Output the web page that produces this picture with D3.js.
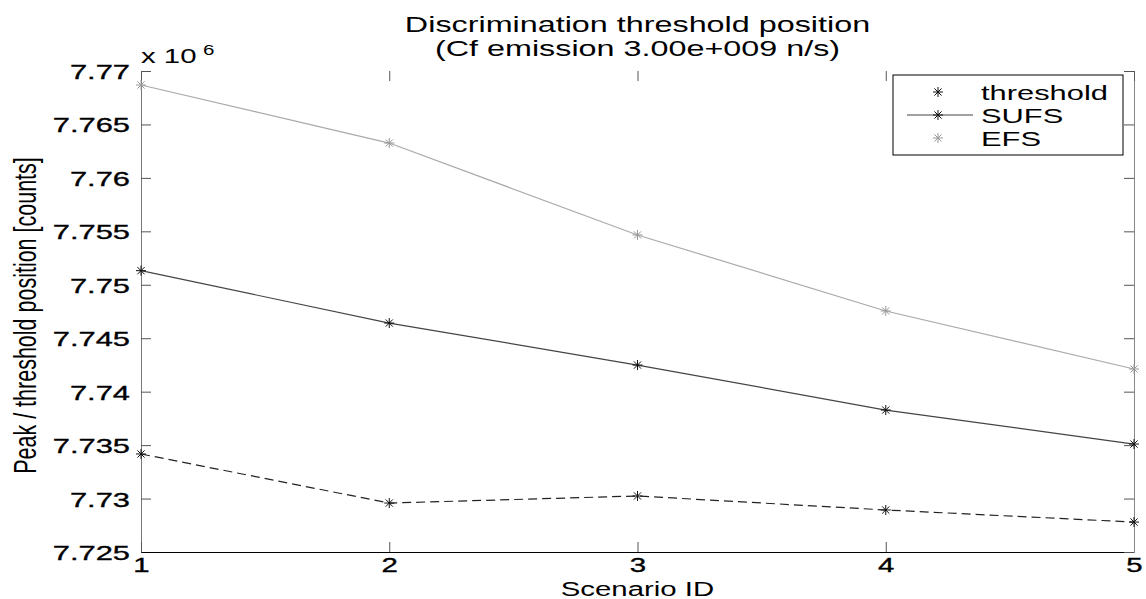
<!DOCTYPE html>
<html>
<head>
<meta charset="utf-8">
<script src="https://cdn.jsdelivr.net/npm/d3@7"></script>
<style>
  body { margin: 0; background: #fff; }
  text { font-family: "Liberation Sans", Arial, sans-serif; fill: #000; }
</style>
</head>
<body>
<div id="chart"></div>
<script>
// Data (values in units of 10^6 counts)
const scenarios = [1, 2, 3, 4, 5];
const thresholdVals = [7.73417, 7.72958, 7.73024, 7.72893, 7.72780];
const sufsVals = [7.75132, 7.74642, 7.74249, 7.73828, 7.73510];
const efsVals = [7.76869, 7.76326, 7.75466, 7.74755, 7.74212];
const yTicks = [7.725, 7.73, 7.735, 7.74, 7.745, 7.75, 7.755, 7.76, 7.765, 7.77];
const seriesNames = ["threshold", "SUFS", "EFS"];

const width = 1146, height = 599;
const plot = { left: 141, right: 1134, top: 71, bottom: 552 };
const SX = 1.47; // the original figure is stretched horizontally

const svg = d3.select("#chart")
    .append("svg")
    .attr("width", width)
    .attr("height", height);

const xScale = d3.scaleLinear().domain([1, 5]).range([plot.left, plot.right]);
const yScale = d3.scaleLinear().domain([7.725, 7.77]).range([plot.bottom, plot.top]);

// series styles
const series = [
    { name: seriesNames[0], values: thresholdVals, stroke: "#222", dash: "9,5", marker: "#111", legendLine: false },
    { name: seriesNames[1], values: sufsVals, stroke: "#444", dash: null, marker: "#111", legendLine: true },
    { name: seriesNames[2], values: efsVals, stroke: "#aaa", dash: null, marker: "#999", legendLine: false }
];

// asterisk marker like matlab '*'
function asterisk(r) {
    const d = r * 0.72;
    return `M${-r},0L${r},0M0,${-r}L0,${r}M${-d},${-d}L${d},${d}M${-d},${d}L${d},${-d}`;
}

// Left axis
const leftAxis = svg.append("g")
    .attr("transform", `translate(${plot.left},0)`)
    .call(d3.axisLeft(yScale).tickValues(yTicks).tickSizeInner(-10).tickSizeOuter(0)
        .tickFormat(d => String(+d.toFixed(3))));
leftAxis.select(".domain").attr("stroke", "#777");
leftAxis.selectAll(".tick line").attr("stroke", "#555");
leftAxis.selectAll(".tick text")
    .attr("x", 0).attr("dy", null)
    .attr("transform", `translate(-11,7.5) scale(${SX},1)`)
    .style("font-size", "21px")
    .style("stroke", "#000").style("stroke-width", 0.35)
    .attr("text-anchor", "end");

// Bottom axis
const bottomAxis = svg.append("g")
    .attr("transform", `translate(0,${plot.bottom})`)
    .call(d3.axisBottom(xScale).tickValues(scenarios).tickSizeInner(-10).tickSizeOuter(0)
        .tickFormat(d3.format("d")));
bottomAxis.select(".domain").attr("stroke", "#000");
bottomAxis.selectAll(".tick line").attr("stroke", "#555");
bottomAxis.selectAll(".tick text")
    .attr("y", 0).attr("dy", null)
    .attr("transform", `translate(0,20) scale(${SX},1)`)
    .style("font-size", "20px")
    .style("stroke", "#000").style("stroke-width", 0.35);

// Right axis (ticks only, mirrored)
const rightAxis = svg.append("g")
    .attr("transform", `translate(${plot.right},0)`)
    .call(d3.axisRight(yScale).tickValues(yTicks).tickSizeInner(-10).tickSizeOuter(0).tickFormat(""));
rightAxis.select(".domain").attr("stroke", "#888");
rightAxis.selectAll(".tick line").attr("stroke", "#555");

// Top ticks (no top line in the original)
const topAxis = svg.append("g")
    .attr("transform", `translate(0,${plot.top})`)
    .call(d3.axisTop(xScale).tickValues(scenarios).tickSizeInner(-10).tickSizeOuter(0).tickFormat(""));
topAxis.select(".domain").remove();
topAxis.selectAll(".tick line").attr("stroke", "#555");

// Lines
const line = d3.line()
    .x((d, i) => xScale(scenarios[i]))
    .y(d => yScale(d));

series.forEach(s => {
    svg.append("path")
        .datum(s.values)
        .attr("d", line)
        .attr("fill", "none")
        .attr("stroke", s.stroke)
        .attr("stroke-width", 1.2)
        .attr("stroke-dasharray", s.dash);

    svg.selectAll(null)
        .data(s.values)
        .enter()
        .append("path")
        .attr("d", asterisk(5))
        .attr("transform", (d, i) => `translate(${xScale(scenarios[i])},${yScale(d)})`)
        .attr("fill", "none")
        .attr("stroke", s.marker)
        .attr("stroke-width", 1);
});

// Exponent label
svg.append("text")
    .attr("transform", `translate(${plot.left},63) scale(${SX},1)`)
    .style("font-size", "20px")
    .text("x 10");
svg.append("text")
    .attr("transform", `translate(203,55) scale(${SX},1)`)
    .style("font-size", "14px")
    .text("6");

// Title
const titleLines = ["Discrimination threshold position", "(Cf emission 3.00e+009 n/s)"];
titleLines.forEach((t, i) => {
    svg.append("text")
        .attr("transform", `translate(${(plot.left + plot.right) / 2},${32 + i * 24}) scale(${SX},1)`)
        .attr("text-anchor", "middle")
        .style("font-size", "22px")
        .text(t);
});

// Axis labels
svg.append("text")
    .attr("transform", `translate(${(plot.left + plot.right) / 2},596) scale(${SX},1)`)
    .attr("text-anchor", "middle")
    .style("font-size", "20px")
    .text("Scenario ID");

svg.append("text")
    .attr("transform", `translate(36,${(plot.top + plot.bottom) / 2 + 4}) scale(${SX},1) rotate(-90)`)
    .attr("text-anchor", "middle")
    .style("font-size", "21.5px")
    .text("Peak / threshold position [counts]");

// Legend
const legend = svg.append("g");
legend.append("rect")
    .attr("x", 893).attr("y", 75)
    .attr("width", 230).attr("height", 80)
    .attr("fill", "#fff")
    .attr("stroke", "#000")
    .attr("stroke-width", 1);

series.forEach((s, i) => {
    const cy = 92 + i * 23;
    if (s.legendLine) {
        legend.append("line")
            .attr("x1", 907).attr("x2", 973)
            .attr("y1", cy).attr("y2", cy)
            .attr("stroke", s.stroke)
            .attr("stroke-width", 1.2);
    }
    legend.append("path")
        .attr("d", asterisk(5))
        .attr("transform", `translate(938,${cy})`)
        .attr("fill", "none")
        .attr("stroke", s.marker);
    legend.append("text")
        .attr("transform", `translate(981,${cy + 7.5}) scale(${SX},1)`)
        .style("font-size", "21px")
        .text(s.name);
});
</script>
</body>
</html>
